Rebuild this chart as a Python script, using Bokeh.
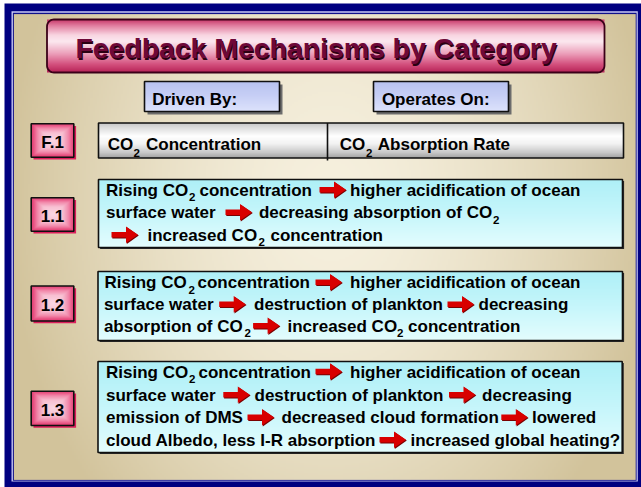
import numpy as np
from bokeh.plotting import figure
from bokeh.models import Range1d
from bokeh.core.properties import value
from bokeh.embed import file_html
from bokeh.resources import INLINE

# ---------------- content ----------------
TITLE = "Feedback Mechanisms by  Category"
HEADERS = ["Driven By:", "Operates On:"]
ROW_LABELS = ["F.1", "1.1", "1.2", "1.3"]
# "_2" = subscript, ">" = red arrow
F1_DRIVEN_BY = ["CO", "_2", "Concentration"]
F1_OPERATES_ON = ["CO", "_2", "Absorption Rate"]
MECH_1_1 = [
    ["Rising CO", "_2", "concentration", ">", "higher acidification of ocean"],
    ["surface water", ">", "decreasing absorption of CO", "_2"],
    [">", "increased CO", "_2", "concentration"],
]
MECH_1_2 = [
    ["Rising CO", "_2", "concentration", ">", "higher acidification of ocean"],
    ["surface water", ">", "destruction of plankton", ">", "decreasing"],
    ["absorption of CO", "_2", ">", "increased CO", "_2", "concentration"],
]
MECH_1_3 = [
    ["Rising CO", "_2", "concentration", ">", "higher acidification of ocean"],
    ["surface water", ">", "destruction of plankton", ">", "decreasing"],
    ["emission of DMS", ">", "decreased cloud formation", ">", "lowered"],
    ["cloud Albedo, less I-R absorption", ">", "increased global heating?"],
]

# ---------------- layout (reference pixels, y downward) ----------------
H_REF = 487
FONT = value("Liberation Sans")
BODY_PX = 17.0
SUB_PX = 11.5
TITLE_PX = 28.4
K_BASE = 0.34   # empirical baseline correction (fraction of font size)


def Y(v):
    return H_REF - v


def YT(v, size):
    return H_REF - (v - K_BASE * size)


p = figure(width=641, height=487, x_range=Range1d(0, 641), y_range=Range1d(0, 487),
           output_backend="svg", toolbar_location=None, min_border=0)
p.axis.visible = False
p.grid.visible = False
p.outline_line_color = None
p.background_fill_color = "white"
p.border_fill_color = "white"


def hex2rgb(h):
    h = h.lstrip("#")
    return np.array([int(h[i:i + 2], 16) for i in (0, 2, 4)], float)


def ramp(t, stops):
    ts = np.array([s[0] for s in stops])
    cs = np.array([hex2rgb(s[1]) for s in stops])
    return np.stack([np.interp(t, ts, cs[:, k]) for k in range(3)], axis=-1)


def to_img(rgb):
    h, w, _ = rgb.shape
    a = np.empty((h, w, 4), np.uint8)
    a[..., :3] = np.clip(rgb, 0, 255).astype(np.uint8)
    a[..., 3] = 255
    return np.ascontiguousarray(a[::-1]).view(np.uint32).reshape(h, w)


def image(x0, y0, x1, y1, rgb):
    p.image_rgba(image=[to_img(rgb)], x=x0, y=Y(y1), dw=x1 - x0, dh=y1 - y0)


def vgrad(x0, y0, x1, y1, stops):
    n = int((y1 - y0) * 2)
    t = (np.arange(n) + 0.5) / n
    rgb = ramp(t, stops)[:, None, :].repeat(4, axis=1)
    image(x0, y0, x1, y1, rgb)


def rect(x0, y0, x1, y1, fill=None, line=None, lw=1.0):
    p.quad(left=x0, right=x1, top=Y(y0), bottom=Y(y1),
           fill_color=fill, fill_alpha=1.0 if fill else 0.0,
           line_color=line, line_width=lw, line_alpha=1.0 if line else 0.0)


# ---- frame ----
rect(4, 3, 641, 487, fill="#000080")
rect(11, 10.7, 637.3, 481, fill="#c8c8f4")
rect(12.4, 12.3, 636.1, 480.2, fill="#10108a")
BG = (13.4, 13.6, 635.2, 479.4)
nx, ny = 312, 233
xs = BG[0] + (np.arange(nx) + 0.5) / nx * (BG[2] - BG[0])
ys = BG[1] + (np.arange(ny) + 0.5) / ny * (BG[3] - BG[1])
XX, YY = np.meshgrid(xs, ys)
tt = np.clip(np.sqrt(((XX - 330) / 325) ** 2 + ((YY - 200) / 430) ** 2), 0, 1) ** 1.6
image(*BG, ramp(tt, [(0, "#f6f0de"), (1, "#d2c39b")]))

# ---- title ----
TB = (46.5, 19, 604, 72)
vgrad(*TB, [(0, "#c63466"), (0.12, "#e27ea0"), (0.3, "#f9d6e2"), (0.42, "#fce9f0"),
            (0.65, "#ec9fba"), (0.85, "#d4507e"), (1, "#b82458")])


def rounded(x0, y0, x1, y1, r, n=10):
    px, py = [], []
    for cx, cy, a0 in [(x1 - r, y0 + r, -90), (x1 - r, y1 - r, 0), (x0 + r, y1 - r, 90), (x0 + r, y0 + r, 180)]:
        for a in np.linspace(a0, a0 + 90, n):
            px.append(cx + r * np.cos(np.radians(a)))
            py.append(Y(cy + r * np.sin(np.radians(a))))
    return px, py


rx, ry = rounded(*TB, 7)
p.patch(rx, ry, fill_alpha=0, line_color="#3a0018", line_width=1.8)
TSIZE = f"{TITLE_PX:.1f}px"
p.text(x=[319.5 + 1.2], y=[YT(57.5 + 1.2, TITLE_PX)], text=[TITLE], text_font=FONT, text_font_style="bold",
       text_font_size=TSIZE, text_align="center", text_baseline="alphabetic",
       text_color="#2a0012")
p.text(x=[319.5], y=[YT(57.5, TITLE_PX)], text=[TITLE], text_font=FONT, text_font_style="bold",
       text_font_size=TSIZE, text_align="center", text_baseline="alphabetic",
       text_color="#6e0838")

# ---- header boxes ----
HEADER_BOXES = [(144, 81, 279, 111), (373, 81, 508, 111)]
HEADER_TX = [151.7, 381.4]
for (x0, y0, x1, y1) in HEADER_BOXES:
    rect(x0 + 3, y0 + 3, x1 + 3, y1 + 3, fill="#6c6c6c")
    vgrad(x0, y0, x1, y1, [(0, "#b8c2f0"), (0.5, "#c8d0f6"), (1, "#dde3fc")])
    rect(x0, y0, x1, y1, line="#101010", lw=1.6)

# ---- label boxes ----
LABEL_BOXES = [(30.7, 123.3, 73.3, 156.7), (30.7, 197.3, 73.3, 230.7),
               (30.7, 285.5, 73.3, 320.5), (30.7, 390.7, 73.3, 425)]
LABEL_BASE = [147.8, 221.7, 310.5, 415.5]
for (x0, y0, x1, y1) in LABEL_BOXES:
    rect(x0 + 2.3, y0 + 2.3, x1 + 2.3, y1 + 2.3, fill="#dc1e5c")
    w, h = int((x1 - x0) * 2), int((y1 - y0) * 2)
    u = np.abs((np.arange(w) + 0.5) / w * 2 - 1)
    v = np.abs((np.arange(h) + 0.5) / h * 2 - 1)
    UU, VV = np.meshgrid(u, v)
    t2 = np.maximum(UU, VV)
    image(x0, y0, x1, y1, ramp(t2, [(0, "#fbd8e4"), (0.45, "#f8c0d2"), (0.72, "#f288aa"),
                                   (0.88, "#ea5686"), (1, "#e03a70")]))
    rect(x0, y0, x1, y1, line="#101010", lw=1.6)

# ---- F.1 box ----
FB = (98, 122.5, 623, 157.5)
vgrad(*FB, [(0, "#c4c4c4"), (0.12, "#dadada"), (0.38, "#ffffff"), (0.6, "#f2f2f2"),
            (0.85, "#c8c8c8"), (1, "#a2a2a2")])
rect(*FB, line="#101010", lw=1.6)
p.segment(x0=[327], y0=[Y(122.5)], x1=[327], y1=[Y(160)], line_color="#101010", line_width=1.6)

# ---- mechanism boxes ----
MECH_BOXES = [(98, 179, 622, 247), (97.5, 271, 622, 340), (97.5, 361, 621.7, 452)]
for (x0, y0, x1, y1) in MECH_BOXES:
    rect(x0 + 1.6, y0 + 1.6, x1 + 1.6, y1 + 1.6, fill="#2a2a2a")
    vgrad(x0, y0, x1, y1, [(0, "#aef0f7"), (0.5, "#c6f6fb"), (1, "#e4fdfe")])
    rect(x0, y0, x1, y1, line="#101010", lw=1.6)

# positions of text runs
MECH_BASE = [[195.5, 218, 240.5], [288, 310, 331.5], [377.3, 400.5, 423, 445.5]]
MECH_X = [
    [[105.5, 188.5, 199, 319, 349.5], [105.5, 225, 258.4, 492.6], [111, 147, 258, 270]],
    [[104, 188, 197, 315, 349.5], [103.4, 218.7, 253.5, 447, 478], [103.4, 244, 252.6, 287, 396.5, 407.6]],
    [[105.5, 188.5, 198, 315, 349.5], [105.5, 222.8, 254, 448.5, 481.6], [105.5, 247, 281, 500.8, 531.5],
     [105.5, 379, 410]],
]

body_x, body_y, body_t = [], [], []
sub_x, sub_y, sub_t = [], [], []
arrows = []


def lay_line(tokens, xpos, yb, sub_off=5.0):
    for tok, x in zip(tokens, xpos):
        if tok == ">":
            arrows.append((x, yb))
        elif tok.startswith("_"):
            sub_x.append(x)
            sub_y.append(YT(yb + sub_off, SUB_PX))
            sub_t.append(tok[1:])
        else:
            body_x.append(x)
            body_y.append(YT(yb, BODY_PX))
            body_t.append(tok)


for mech, bases, xsets in zip([MECH_1_1, MECH_1_2, MECH_1_3], MECH_BASE, MECH_X):
    for tokens, yb, xpos in zip(mech, bases, xsets):
        lay_line(tokens, xpos, yb)

lay_line(F1_DRIVEN_BY, [107.3, 133, 145.5], 149.5, sub_off=6.5)
lay_line(F1_OPERATES_ON, [339.3, 365.5, 377.3], 149.5, sub_off=6.5)
for t, x in zip(HEADERS, HEADER_TX):
    lay_line([t], [x], 105)

p.text(x=body_x, y=body_y, text=body_t, text_font=FONT, text_font_style="bold",
       text_font_size=f"{BODY_PX:.1f}px", text_baseline="alphabetic", text_align="left",
       text_color="#000000")
p.text(x=sub_x, y=sub_y, text=sub_t, text_font=FONT, text_font_style="bold",
       text_font_size=f"{SUB_PX:.1f}px", text_baseline="alphabetic", text_align="left",
       text_color="#000000")

# labels
lx = [(b[0] + b[2]) / 2 for b in LABEL_BOXES]
p.text(x=lx, y=[YT(v, BODY_PX) for v in LABEL_BASE], text=ROW_LABELS, text_font=FONT,
       text_font_style="bold", text_font_size=f"{BODY_PX:.1f}px", text_baseline="alphabetic",
       text_align="center", text_color="#000000")

# arrows
L, HL, SH, HH = 26.5, 12.0, 2.8, 8.3


def arrow_shape(x0, yb, dx=0.0, dy=0.0):
    yc = yb - 6.3 + dy
    x0 = x0 + dx
    ax = [x0, x0 + L - HL, x0 + L - HL, x0 + L, x0 + L - HL, x0 + L - HL, x0]
    ay = [yc - SH, yc - SH, yc - HH, yc, yc + HH, yc + SH, yc + SH]
    return ax, [Y(v) for v in ay]


sh = [arrow_shape(x, yb, 0.8, 0.9) for x, yb in arrows]
mn = [arrow_shape(x, yb) for x, yb in arrows]
p.patches(xs=[a[0] for a in sh], ys=[a[1] for a in sh], fill_color="#7a0000", line_color=None)
p.patches(xs=[a[0] for a in mn], ys=[a[1] for a in mn], fill_color="#d80000", line_color=None)

open("out.html", "w").write(file_html(p, INLINE))
